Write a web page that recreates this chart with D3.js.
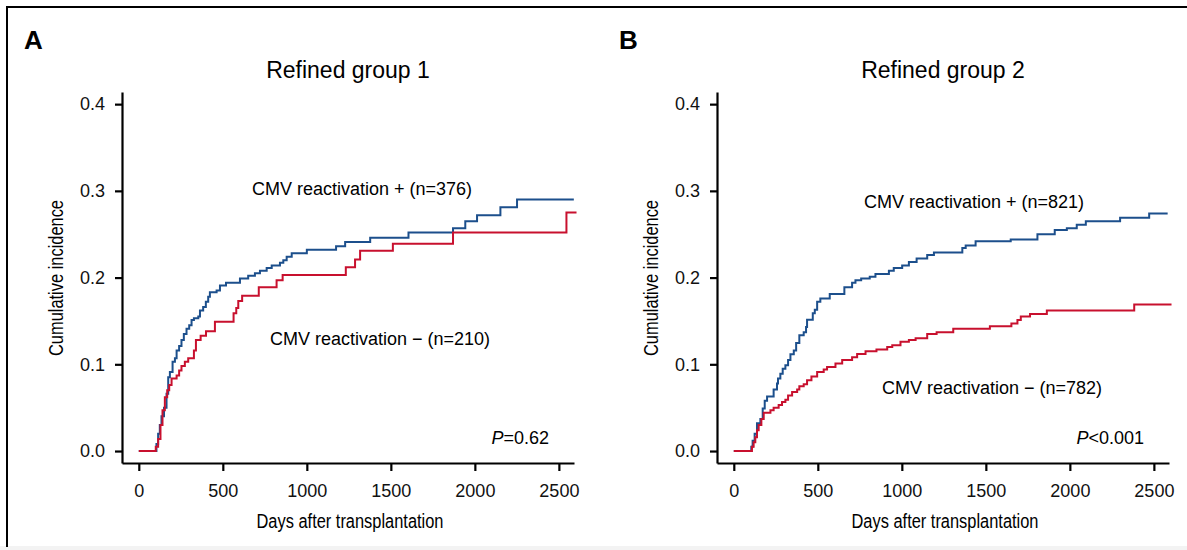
<!DOCTYPE html>
<html>
<head>
<meta charset="utf-8">
<script src="https://cdn.jsdelivr.net/npm/d3@7"></script>
<style>
  body { margin: 0; background: #fff; }
  svg { display: block; font-family: "Liberation Sans", Arial, sans-serif; }
</style>
</head>
<body>
<div id="chart"></div>
<script>
// tick values shared by both panels
var xTicks = [0, 500, 1000, 1500, 2000, 2500];
var yTicks = [0, 0.1, 0.2, 0.3, 0.4];

// refined group 1, CMV reactivation +
var g1PosDays = [0, 101, 105, 115, 125, 135, 150, 165, 175, 185, 201, 215, 225, 240, 254, 268, 284, 300, 314, 328, 354, 364, 383, 399, 413, 423, 463, 483, 519, 602, 651, 691, 721, 761, 791, 840, 860, 880, 910, 1000, 1174, 1228, 1377, 1605, 1870, 1943, 2013, 2152, 2251, 2589];
var g1PosCI = [0, 0, 0.008, 0.02, 0.03, 0.04, 0.05, 0.066, 0.085, 0.091, 0.103, 0.107, 0.116, 0.121, 0.128, 0.135, 0.141, 0.145, 0.151, 0.153, 0.155, 0.162, 0.166, 0.172, 0.178, 0.183, 0.185, 0.191, 0.194, 0.199, 0.202, 0.205, 0.208, 0.211, 0.214, 0.217, 0.220, 0.224, 0.228, 0.232, 0.236, 0.241, 0.246, 0.252, 0.257, 0.265, 0.272, 0.281, 0.290, 0.290];

// refined group 1, CMV reactivation -
var g1NegDays = [0, 101, 115, 129, 141, 155, 169, 181, 195, 225, 240, 254, 274, 294, 328, 340, 368, 400, 453, 564, 580, 592, 615, 714, 820, 856, 1232, 1287, 1317, 1512, 1870, 2545, 2605];
var g1NegCI = [0, 0.005, 0.014, 0.03, 0.047, 0.062, 0.07, 0.076, 0.0835, 0.087, 0.093, 0.098, 0.103, 0.107, 0.116, 0.128, 0.133, 0.138, 0.149, 0.159, 0.165, 0.173, 0.179, 0.189, 0.197, 0.203, 0.212, 0.221, 0.231, 0.239, 0.252, 0.275, 0.275];

// refined group 2, CMV reactivation +
var g2PosDays = [0, 100, 104, 112, 124, 138, 158, 172, 184, 198, 237, 257, 263, 277, 291, 307, 323, 337, 357, 371, 390, 416, 430, 436, 470, 482, 496, 515, 571, 658, 704, 724, 758, 809, 843, 923, 952, 1002, 1042, 1088, 1151, 1191, 1360, 1380, 1439, 1648, 1807, 1910, 1982, 2041, 2095, 2299, 2472, 2582];
var g2PosCI = [0, 0, 0.005, 0.012, 0.020, 0.032, 0.037, 0.049, 0.058, 0.063, 0.071, 0.078, 0.0835, 0.089, 0.095, 0.099, 0.105, 0.1115, 0.116, 0.1246, 0.1334, 0.137, 0.143, 0.1515, 0.159, 0.163, 0.172, 0.176, 0.181, 0.189, 0.194, 0.197, 0.199, 0.201, 0.204, 0.208, 0.211, 0.214, 0.218, 0.222, 0.226, 0.229, 0.234, 0.237, 0.242, 0.244, 0.250, 0.255, 0.257, 0.261, 0.265, 0.269, 0.274, 0.274];

// refined group 2, CMV reactivation -
var g2NegDays = [0, 108, 118, 128, 138, 148, 164, 178, 218, 237, 267, 287, 307, 323, 347, 377, 390, 416, 436, 462, 496, 535, 555, 605, 645, 704, 734, 784, 849, 913, 943, 992, 1042, 1082, 1151, 1207, 1306, 1524, 1652, 1688, 1708, 1763, 1863, 2383, 2605];
var g2NegCI = [0, 0.005, 0.010, 0.016, 0.024, 0.030, 0.037, 0.044, 0.047, 0.050, 0.053, 0.0565, 0.059, 0.064, 0.068, 0.071, 0.0746, 0.077, 0.0815, 0.086, 0.091, 0.094, 0.097, 0.101, 0.105, 0.108, 0.112, 0.115, 0.117, 0.120, 0.122, 0.126, 0.128, 0.130, 0.135, 0.137, 0.141, 0.144, 0.147, 0.151, 0.155, 0.158, 0.162, 0.169, 0.169];

var blue = "#1c4f8c",
  red = "#c8102e";

var svg = d3.select("#chart")
  .append("svg")
  .attr("width", 1187)
  .attr("height", 550);

// figure frame (top and left rules, grey strip at the bottom)
svg.append("rect")
  .attr("x", 0).attr("y", 546)
  .attr("width", 1187).attr("height", 4)
  .attr("fill", "#f3f3f3");
svg.append("path")
  .attr("d", "M7,547V7H1187")
  .attr("fill", "none")
  .attr("stroke", "#000")
  .attr("stroke-width", 2);

function zip(days, ci) {
  return days.map(function(d, i) {
    return [d, ci[i]];
  });
}

function drawPanel(p) {
  var x = d3.scaleLinear()
    .domain([-100, 2590])
    .range([p.left, p.left + 452]);
  var y = d3.scaleLinear()
    .domain([-0.0138, 0.414])
    .range([463, 92]);

  // panel letter and title
  svg.append("text")
    .attr("x", p.left - 98)
    .attr("y", 49)
    .attr("font-size", 26)
    .attr("font-weight", "bold")
    .text(p.letter);
  svg.append("text")
    .attr("x", p.left + 226)
    .attr("y", 78)
    .attr("text-anchor", "middle")
    .attr("font-size", 23)
    .text(p.title);

  // x axis
  var gx = svg.append("g")
    .attr("transform", "translate(0,463)")
    .call(d3.axisBottom(x).tickValues(xTicks).tickFormat(d3.format("d"))
      .tickSize(8).tickSizeOuter(0).tickPadding(13));
  // y axis
  var gy = svg.append("g")
    .attr("transform", "translate(" + p.left + ",0)")
    .call(d3.axisLeft(y).tickValues(yTicks).tickFormat(d3.format(".1f"))
      .tickSize(7).tickSizeOuter(0).tickPadding(10));

  [gx, gy].forEach(function(g) {
    g.attr("font-size", 18)
      .attr("font-family", "'Liberation Sans', Arial, sans-serif");
    g.selectAll("path, line")
      .attr("stroke", "#000")
      .attr("stroke-width", 2.2);
    g.selectAll("text").attr("fill", "#111");
  });

  // axis titles, squeezed to look condensed
  svg.append("text")
    .attr("x", p.left + 228)
    .attr("y", 528)
    .attr("text-anchor", "middle")
    .attr("font-size", 20)
    .attr("textLength", 187)
    .attr("lengthAdjust", "spacingAndGlyphs")
    .text("Days after transplantation");
  svg.append("text")
    .attr("transform", "translate(" + (p.left - 59) + ",278)rotate(-90)")
    .attr("text-anchor", "middle")
    .attr("font-size", 20)
    .attr("textLength", 156)
    .attr("lengthAdjust", "spacingAndGlyphs")
    .text("Cumulative incidence");

  // step curves, red drawn last so it sits on top
  var line = d3.line()
    .x(function(d) { return x(d[0]); })
    .y(function(d) { return y(d[1]); })
    .curve(d3.curveStepAfter);

  svg.append("path")
    .datum(zip(p.posDays, p.posCI))
    .attr("d", line)
    .attr("fill", "none")
    .attr("stroke", blue)
    .attr("stroke-width", 2);
  svg.append("path")
    .datum(zip(p.negDays, p.negCI))
    .attr("d", line)
    .attr("fill", "none")
    .attr("stroke", red)
    .attr("stroke-width", 2);

  // labels
  svg.append("text")
    .attr("x", p.posLab[0]).attr("y", p.posLab[1])
    .attr("text-anchor", "middle")
    .attr("font-size", 18)
    .text(p.posText);
  svg.append("text")
    .attr("x", p.negLab[0]).attr("y", p.negLab[1])
    .attr("text-anchor", "middle")
    .attr("font-size", 18)
    .text(p.negText);

  var pt = svg.append("text")
    .attr("x", p.left + 427).attr("y", 444)
    .attr("text-anchor", "end")
    .attr("font-size", 18);
  pt.append("tspan").attr("font-style", "italic").text("P");
  pt.append("tspan").text(p.pval);
}

drawPanel({
  left: 122,
  letter: "A",
  title: "Refined group 1",
  posDays: g1PosDays, posCI: g1PosCI,
  negDays: g1NegDays, negCI: g1NegCI,
  posText: "CMV reactivation + (n=376)", posLab: [362, 195],
  negText: "CMV reactivation \u2212 (n=210)", negLab: [380, 345],
  pval: "=0.62"
});

drawPanel({
  left: 717,
  letter: "B",
  title: "Refined group 2",
  posDays: g2PosDays, posCI: g2PosCI,
  negDays: g2NegDays, negCI: g2NegCI,
  posText: "CMV reactivation + (n=821)", posLab: [974, 208],
  negText: "CMV reactivation \u2212 (n=782)", negLab: [992, 394],
  pval: "<0.001"
});
</script>
</body>
</html>
